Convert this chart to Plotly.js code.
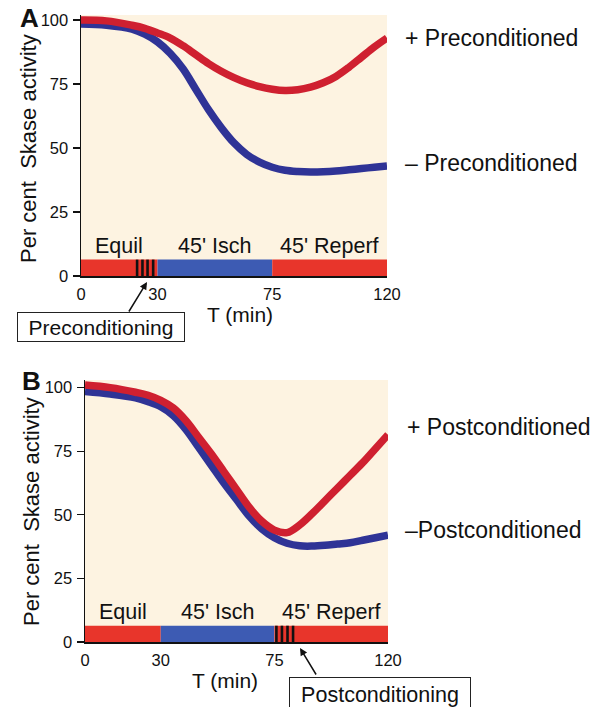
<!DOCTYPE html>
<html><head><meta charset="utf-8">
<script src="https://cdn.plot.ly/plotly-3.0.1.min.js"></script>
<style>html,body{margin:0;padding:0;background:#fff;} #chart{width:599px;height:707px;}</style>
</head><body><div id="chart"></div>
<script>
// ---- data ----
const timeMin = [0,10,20,25,30,35,40,45,50,55,60,65,70,75,80,85,90,95,100,105,110,115,120];
const prePlus  = [100,99.7,98,96.8,95,93,90,86.5,83,80,77.5,75.5,74,73,72.5,72.8,73.8,75.5,78,81.5,85.5,89.5,93];
const preMinus = [98.5,98,96.5,94.5,91.5,87,81,73,65,58,52,47.5,44.5,42.5,41.3,40.8,40.6,40.7,41,41.5,42,42.5,43];
const postPlus  = [101,100,98.2,97,95,92,87,80.5,74,67,60,53,47.5,44,43,46,50.5,55.5,60.5,65.5,70.5,76,81.5];
const postMinus = [98.5,97.5,96,94.5,92.5,89,83.5,76.5,69.5,62.5,56,49.5,44.5,41,38.8,37.8,37.7,38,38.5,39,40,41,42];
const phaseNames = ["Equil", "45' Isch", "45' Reperf"];
const phaseStart = [0, 30, 75];
const phaseEnd = [30, 75, 120];
const preStripes = [22, 24.1, 26.1, 28.3];
const postStripes = [75.8, 78, 80.2, 82.4];
const xTicks = [0, 30, 75, 120];
const yTicks = [0, 25, 50, 75, 100];

// ---- style ----
const W = 599, H = 707;
const FONT = "Liberation Sans, Arial, Helvetica, sans-serif";
const RED_LINE = "#cf2030", BLUE_LINE = "#2f3396";
const phaseColors = ["#e8352b", "#3d5bb3", "#e8352b"];
const BAR_H = 6.4;
const px = v => v / W, py = v => 1 - v / H;

function phaseBar(xa, ya) {
  return {type:'bar', orientation:'h', xaxis:xa, yaxis:ya,
    y: phaseStart.map(() => BAR_H/2),
    x: phaseStart.map((s,i) => phaseEnd[i]-s),
    base: phaseStart, width: BAR_H,
    marker:{color: phaseColors, line:{width:0}}, hoverinfo:'skip'};
}
function stripes(arr, xa, ya) {
  const x = [], y = [];
  arr.forEach(s => { x.push(s, s, null); y.push(0, BAR_H, null); });
  return {type:'scatter', mode:'lines', x, y, xaxis:xa, yaxis:ya,
    line:{color:'#111', width:2.6}, hoverinfo:'skip'};
}
function curve(yv, color, xa, ya) {
  return {type:'scatter', mode:'lines', x: timeMin, y: yv, xaxis:xa, yaxis:ya,
    line:{color, width:7.5, shape:'spline', smoothing:1}, hoverinfo:'skip'};
}

const data = [
  phaseBar('x','y'), stripes(preStripes,'x','y'),
  curve(preMinus, BLUE_LINE, 'x','y'), curve(prePlus, RED_LINE, 'x','y'),
  phaseBar('x2','y2'), stripes(postStripes,'x2','y2'),
  curve(postMinus, BLUE_LINE, 'x2','y2'), curve(postPlus, RED_LINE, 'x2','y2')
];

function xax(dom, anchor) {
  return {domain: dom, anchor, range:[0,120], tickvals:xTicks, ticktext:xTicks.map(String),
    showline:true, linecolor:'#111', linewidth:1.5, ticks:'', showgrid:false, zeroline:false,
    tickfont:{size:16.5, color:'#111', family:FONT}, ticklabelstandoff:3, fixedrange:true};
}
function yax(dom, anchor, top) {
  return {domain: dom, anchor, range:[0,top], tickvals:yTicks, ticktext:yTicks.map(String),
    showline:true, linecolor:'#111', linewidth:1.5, ticks:'outside', ticklen:7, tickwidth:1.3,
    tickcolor:'#111', showgrid:false, zeroline:false,
    tickfont:{size:16.5, color:'#111', family:FONT}, ticklabelstandoff:1, fixedrange:true};
}

const ann = [];
function txt(text, x, y, size, extra) {
  ann.push(Object.assign({text, x:px(x), y:py(y), xref:'paper', yref:'paper', showarrow:false,
    xanchor:'center', yanchor:'middle',
    font:{size, color:'#111', family:FONT}}, extra||{}));
}
txt('<b>A</b>', 29, 18, 26);
txt('<b>B</b>', 31, 381, 26);
txt('Per cent  Skase activity', 28, 149, 22, {textangle:-90});
txt('Per cent  Skase activity', 31, 512, 22, {textangle:-90});
txt('T (min)', 240, 314, 21);
txt('T (min)', 225, 680, 21);
txt('+ Preconditioned', 403, 38, 23, {xanchor:'left'});
txt('\u2013 Preconditioned', 403, 163, 23, {xanchor:'left'});
txt('+ Postconditioned', 405, 427, 23, {xanchor:'left'});
txt('\u2013Postconditioned', 403, 530, 23, {xanchor:'left'});
// phase labels
[['x','y'],['x2','y2']].forEach(([xa,ya]) => {
  phaseNames.forEach((n,i) => {
    ann.push({text:n, x:(phaseStart[i]+phaseEnd[i])/2, y:11.8, xref:xa, yref:ya, showarrow:false,
      xanchor:'center', yanchor:'middle',
      font:{size:21.5, color:'#111', family:FONT}});
  });
});
// boxes
txt('Preconditioning', 101, 327, 21, {bordercolor:'#222', borderwidth:1, borderpad:0, bgcolor:'#fff', width:166, height:28});
txt('Postconditioning', 380, 695, 21.5, {bordercolor:'#222', borderwidth:1, borderpad:0, bgcolor:'#fff', width:180, height:34});
// arrows
ann.push({text:'', x:px(147), y:py(282), xref:'paper', yref:'paper', showarrow:true, ax:-19, ay:31,
  arrowhead:2, arrowsize:1, arrowwidth:1.5, arrowcolor:'#111', standoff:0});
ann.push({text:'', x:px(300), y:py(648), xref:'paper', yref:'paper', showarrow:true, ax:17, ay:28,
  arrowhead:2, arrowsize:1, arrowwidth:1.5, arrowcolor:'#111', standoff:0});

const layout = {
  width:W, height:H, margin:{l:0,r:0,t:0,b:0}, paper_bgcolor:'#fff', plot_bgcolor:'#fdf3e1',
  showlegend:false, barmode:'overlay', font:{family:FONT, color:'#111'},
  xaxis: xax([px(81), px(387)], 'y'),
  yaxis: yax([py(276), py(15)], 'x', 102),
  xaxis2: xax([px(85), px(388)], 'y2'),
  yaxis2: yax([py(642), py(380)], 'x2', 103),
  annotations: ann
};
Plotly.newPlot('chart', data, layout, {displayModeBar:false, staticPlot:true});
</script></body></html>
